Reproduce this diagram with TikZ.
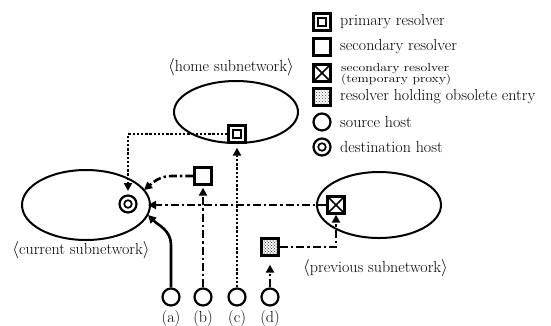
\documentclass[tikz,border=0pt]{standalone}
\usetikzlibrary{arrows.meta,shapes.geometric,patterns}
\begin{document}
\begin{tikzpicture}[x=1pt,y=-1pt,
  big/.style={font=\fontsize{16}{19}\selectfont, inner sep=0pt},
  small/.style={font=\fontsize{11.5}{12}\selectfont, inner sep=0pt, align=left},
  subnet/.style={ellipse, draw, line width=2pt, inner sep=0pt},
  sq/.style={rectangle, draw, line width=2.4pt, minimum size=17pt, inner sep=0pt, fill=white},
  primsq/.style={sq, path picture={\draw[line width=1.6pt] ([shift={(-4pt,-4pt)}]path picture bounding box.center) rectangle ([shift={(4pt,4pt)}]path picture bounding box.center);}},
  proxsq/.style={sq, path picture={\draw[line width=1.6pt] (path picture bounding box.south west) -- (path picture bounding box.north east) (path picture bounding box.north west) -- (path picture bounding box.south east);}},
  obssq/.style={sq, fill=black!15, pattern=crosshatch dots, pattern color=black!75},
  hostc/.style={circle, draw, line width=2.2pt, minimum size=17pt, inner sep=0pt, fill=white},
  dsthost/.style={hostc, path picture={\draw[line width=1.7pt] (path picture bounding box.center) circle[radius=3.8pt];}},
  conn/.style={line width=2.6pt},
  arr/.style={-{Triangle[length=8pt,width=8pt]}},
  dotln/.style={conn, dash pattern=on 2.4pt off 1.8pt},
  dashdot/.style={conn, dash pattern=on 8pt off 3pt on 2.4pt off 3pt}
]
\useasboundingbox (0,0) rectangle (551,325);

% subnetworks
\node[subnet, minimum width=124pt, minimum height=62pt] (home) at (236,112) {};
\node[subnet, minimum width=128pt, minimum height=70pt] (cur) at (86,205) {};
\node[subnet, minimum width=124pt, minimum height=66pt] (prev) at (379,205) {};

\node[big] (homel) at (231,67) {$\langle$home subnetwork$\rangle$};
\node[big] (curl) at (81,250) {$\langle$current subnetwork$\rangle$};
\node[big, anchor=west] (prevl) at (303,268) {$\langle$previous subnetwork$\rangle$};

% hosts
\node[dsthost] (dst) at (128,204) {};
\node[hostc] (ha) at (171,297) {};
\node[hostc] (hb) at (203,297) {};
\node[hostc] (hc) at (237,297) {};
\node[hostc] (hd) at (270,297) {};
\node[big] (la) at (171,318) {(a)};
\node[big] (lb) at (203,318) {(b)};
\node[big] (lc) at (237,318) {(c)};
\node[big] (ld) at (270,318) {(d)};

% resolvers
\node[primsq] (prim) at (237,134) {};
\node[sq] (sec) at (203,176) {};
\node[proxsq] (prox) at (336,205) {};
\node[obssq] (obs) at (270,247) {};

% arrow end points
\coordinate (ta) at (148,215);
\coordinate (tb) at (144,190);
\coordinate (tc) at (128,191);
\coordinate (td) at (148,205);

% (a)
\draw[conn, arr] (ha.north) -- (171,245) to[out=90,in=-45] (ta);
% (b)
\draw[dashdot, arr] (hb.north) -- ([yshift=-2pt]sec.south);
\draw[dashdot, arr] (sec.west) -- (172,176) to[out=180,in=40] (tb);
% (c)
\draw[dotln, arr] (hc.north) -- ([yshift=-4pt]prim.south);
\draw[dotln, arr] (prim.west) -- (128,134) -- (tc);
% (d)
\draw[dashdot, arr] (hd.north) -- ([yshift=-8pt]obs.south);
\draw[dashdot, arr] (obs.east) -- (prox.south |- obs.east) -- (prox.south);
\draw[dashdot, arr] (prox.west) -- (td);

% redraw resolvers on top
\node[primsq] at (prim) {};
\node[sq] at (sec) {};
\node[proxsq] at (prox) {};
\node[obssq] at (obs) {};

% legend
\node[primsq] (k1) at (322,22) {};
\node[sq] (k2) at (322,47) {};
\node[proxsq] (k3) at (322,73) {};
\node[obssq] (k4) at (322,97) {};
\node[hostc] (k5) at (322,122) {};
\node[dsthost] (k6) at (322,147) {};
\node[big, anchor=west] (t1) at (340,22) {primary resolver};
\node[big, anchor=west] (t2) at (340,47) {secondary resolver};
\node[small, anchor=west] (t3) at (341,74) {\scalebox{1.2}[1]{secondary resolver}\\[-1pt]\scalebox{1.2}[1]{(temporary proxy)}};
\node[big, anchor=west] (t4) at (340,97) {resolver holding obsolete entry};
\node[big, anchor=west] (t5) at (340,122) {source host};
\node[big, anchor=west] (t6) at (340,147) {destination host};
\end{tikzpicture}
\end{document}
